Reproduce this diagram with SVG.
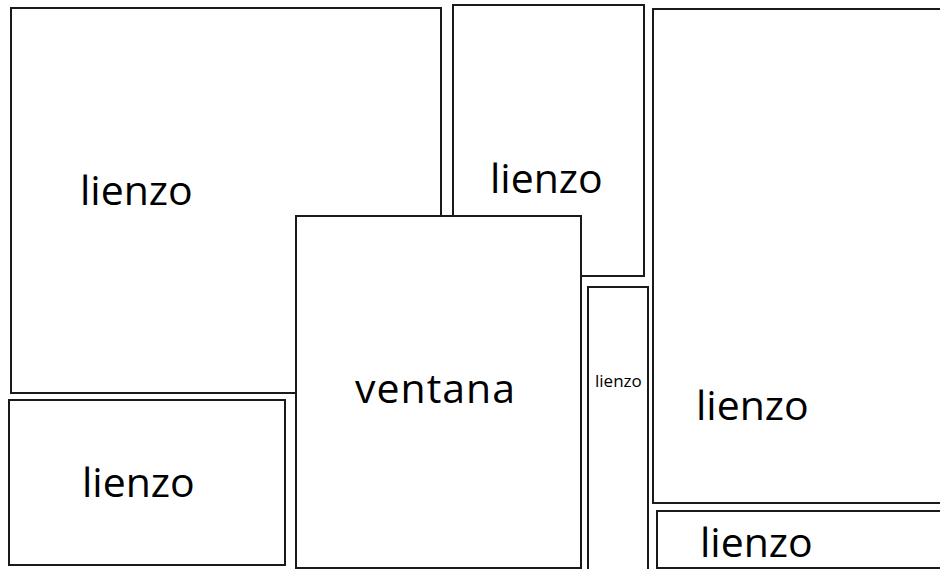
<svg xmlns="http://www.w3.org/2000/svg" width="940" height="569" viewBox="0 0 940 569">
<style>
.box{fill:#fff;stroke:#1a1a1a;stroke-width:2}
.t{font-family:"Open Sans","Noto Sans",sans-serif;font-size:41px;fill:#000}
.s{font-family:"Open Sans","Noto Sans",sans-serif;font-size:17px;fill:#000}
</style>
<rect width="940" height="569" fill="#fff"/>
<g id="lienzo-a"><rect class="box" x="11" y="8" width="430" height="385"/><text class="t" x="80" y="205">lienzo</text></g>
<g id="lienzo-b"><rect class="box" x="453" y="5" width="191" height="271"/><text class="t" x="490" y="193">lienzo</text></g>
<g id="lienzo-c"><rect class="box" x="653" y="9" width="300" height="494"/><text class="t" x="696" y="420">lienzo</text></g>
<g id="lienzo-d"><rect class="box" x="9" y="400" width="276" height="165"/><text class="t" x="82" y="497">lienzo</text></g>
<g id="ventana"><rect class="box" x="296" y="216" width="285" height="352"/><text class="t" x="355" y="403" letter-spacing="1">ventana</text></g>
<g id="lienzo-e"><rect class="box" x="588" y="287" width="60" height="300"/><text class="s" x="595" y="387">lienzo</text></g>
<g id="lienzo-f"><rect class="box" x="657" y="511" width="300" height="57"/><text class="t" x="700" y="557">lienzo</text></g>
<g id="connectors"></g>
</svg>
